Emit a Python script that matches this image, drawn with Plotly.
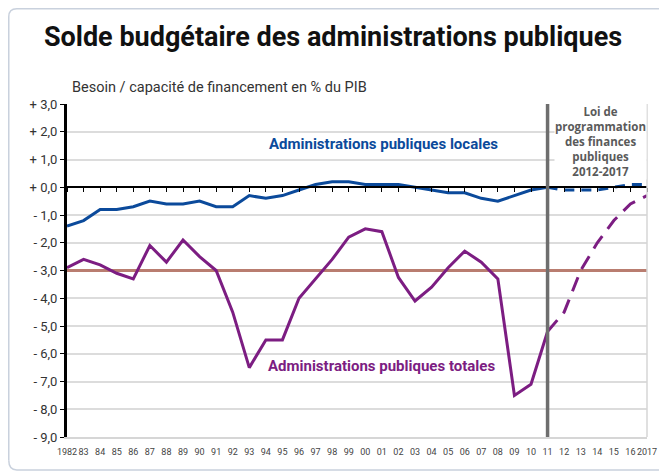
import plotly.graph_objects as go

# Solde budgetaire (% du PIB)
annees = list(range(1982, 2012))
apul = [-1.4, -1.2, -0.8, -0.8, -0.7, -0.5, -0.6, -0.6, -0.5, -0.7,
        -0.7, -0.3, -0.4, -0.3, -0.1, 0.1, 0.2, 0.2, 0.1, 0.1,
        0.1, 0.0, -0.1, -0.2, -0.2, -0.4, -0.5, -0.3, -0.1, 0.0]
apu = [-2.9, -2.6, -2.8, -3.1, -3.3, -2.1, -2.7, -1.9, -2.5, -3.0,
       -4.5, -6.5, -5.5, -5.5, -4.0, -3.3, -2.6, -1.8, -1.5, -1.6,
       -3.25, -4.1, -3.6, -2.9, -2.3, -2.7, -3.3, -7.5, -7.1, -5.2]

# Loi de programmation 2012-2017
annees_lpfp = list(range(2011, 2018))
apul_lpfp = [0.0, -0.1, -0.1, -0.1, 0.0, 0.1, 0.1]
apu_lpfp = [-5.2, -4.5, -3.0, -2.0, -1.2, -0.6, -0.3]

seuil = -3.0
debut_lpfp = 2011

y_ticks = [3, 2, 1, 0, -1, -2, -3, -4, -5, -6, -7, -8, -9]
y_labels = ["+ 3,0", "+ 2,0", "+ 1,0", "+ 0,0", "- 1,0", "- 2,0", "- 3,0",
            "- 4,0", "- 5,0", "- 6,0", "- 7,0", "- 8,0", "- 9,0"]
x_ticks = list(range(1982, 2018))
x_labels = ["1982"] + ["%02d" % (a % 100) for a in range(1983, 2017)] + ["2017"]

bleu = "#0b4a9b"
violet = "#7c1d82"

fig = go.Figure()
# seuil de 3 %
fig.add_trace(go.Scatter(x=[1982, 2017], y=[seuil, seuil], mode="lines",
                         line=dict(color="#b97d70", width=3), showlegend=False, hoverinfo="skip"))
fig.add_trace(go.Scatter(x=annees, y=apul, mode="lines", line=dict(color=bleu, width=3), showlegend=False))
fig.add_trace(go.Scatter(x=annees_lpfp, y=apul_lpfp, mode="lines", line=dict(color=bleu, width=3, dash="10px,7px"), showlegend=False))
fig.add_trace(go.Scatter(x=annees, y=apu, mode="lines", line=dict(color=violet, width=3), showlegend=False))
fig.add_trace(go.Scatter(x=annees_lpfp, y=apu_lpfp, mode="lines", line=dict(color=violet, width=3, dash="15px,9px"), showlegend=False))
# axe des abscisses sur le zero, avec graduations
fig.add_trace(go.Scatter(x=[1982, 2017], y=[0, 0], xaxis="x2", mode="lines",
                         line=dict(color="rgba(0,0,0,0)"), showlegend=False, hoverinfo="skip"))

fig.add_shape(type="line", xref="x", yref="paper", x0=debut_lpfp, x1=debut_lpfp, y0=0, y1=1,
              line=dict(color="#6e6e6e", width=3.5))
fig.add_shape(type="line", xref="paper", yref="paper", x0=1, x1=1, y0=0, y1=1,
              line=dict(color="#d6d6d6", width=1.5))
# cadre arrondi
fig.add_shape(type="path", xref="paper", yref="paper",
              path="M -0.1004,-0.07 L -0.1004,1.262 Q -0.1004,1.286 -0.0866,1.286 L 1.2,1.286",
              line=dict(color="#c9d1dd", width=1.5))
fig.add_shape(type="path", xref="paper", yref="paper",
              path="M -0.1004,-0.07 Q -0.1004,-0.099 -0.0866,-0.099 L 1.2,-0.099",
              line=dict(color="#c9d1dd", width=1.5))

fig.add_annotation(x=2001.1, y=1.55, text="<b>Administrations publiques locales</b>", showarrow=False,
                   font=dict(color=bleu, size=15, family="Roboto"))
fig.add_annotation(x=2001.0, y=-6.45, text="<b>Administrations publiques totales</b>", showarrow=False,
                   font=dict(color=violet, size=15, family="Roboto"))
fig.add_annotation(x=2014.2, y=1.65,
                   text="<b>Loi de<br>programmation<br>des finances<br>publiques<br>2012-2017</b>",
                   showarrow=False, bgcolor="white", borderpad=0,
                   font=dict(color="#5a5a5a", size=11.5, family="Open Sans"))
fig.add_annotation(xref="paper", yref="paper", x=0.005, y=1.051, xanchor="left", yanchor="middle",
                   text="Besoin / capacité de financement en % du PIB", showarrow=False,
                   font=dict(color="#333333", size=14.5, family="Roboto"))

fig.update_layout(
    width=659, height=465,
    margin=dict(l=59, r=20, t=96, b=36, autoexpand=False),
    paper_bgcolor="white", plot_bgcolor="white",
    title=dict(text="<b>Solde budgétaire des administrations publiques</b>", x=325 / 659, xanchor="center",
               y=1 - 29 / 465, yanchor="middle", font=dict(size=27, color="#111111", family="Roboto")),
    font=dict(family="Roboto", color="#333333"),
    xaxis=dict(range=[1982, 2017], tickvals=x_ticks, ticktext=x_labels, showgrid=False,
               zeroline=False, showline=True, linecolor="#d6d6d6", linewidth=1.5,
               ticks="outside", ticklen=5, tickcolor="rgba(0,0,0,0)", tickangle=0, automargin=False,
               tickfont=dict(size=9, color="#444444")),
    xaxis2=dict(range=[1982, 2017], overlaying="x", anchor="free", position=0.75, side="bottom",
                tickvals=x_ticks, showticklabels=False, ticks="outside", ticklen=4, tickcolor="black",
                tickwidth=1, showline=True, linecolor="black", linewidth=1.5, showgrid=False,
                zeroline=False),
    yaxis=dict(range=[-9, 3], tickvals=y_ticks, ticktext=y_labels, showgrid=True,
               gridcolor="#dcdcdc", gridwidth=1.5, zeroline=False, showline=True,
               linecolor="black", linewidth=3, ticks="outside", ticklen=4, tickcolor="black",
               automargin=False, tickfont=dict(size=13, color="#333333")),
)

fig.write_html("out.html")
